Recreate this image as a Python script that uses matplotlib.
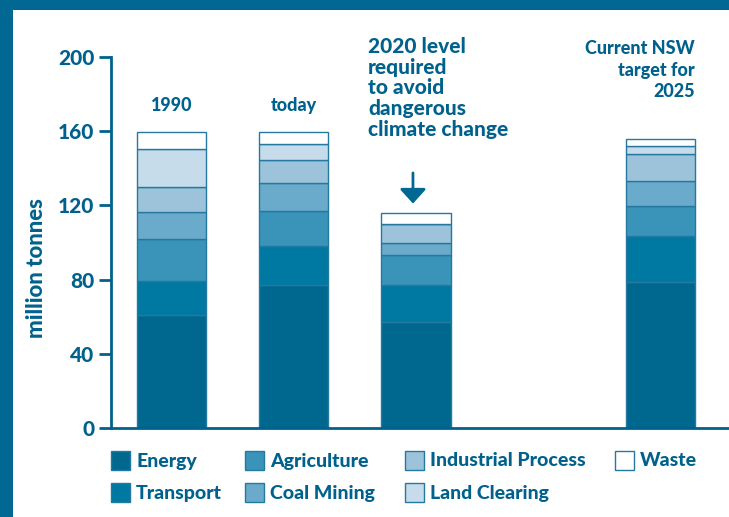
import matplotlib
matplotlib.use("Agg")
import matplotlib.pyplot as plt
from matplotlib.patches import Rectangle
import numpy as np

# ---- data (million tonnes) ----
bar_labels = ["1990", "today", "2020", "2025"]
bar_pos = [0, 1, 2, 4]
sectors = ["Energy", "Transport", "Agriculture", "Coal Mining",
           "Industrial Process", "Land Clearing", "Waste"]
energy = [61.0, 77.0, 57.3, 78.5]
transport = [18.0, 21.0, 19.6, 24.8]
agriculture = [23.0, 19.0, 16.2, 16.2]
coal_mining = [14.5, 15.0, 6.8, 13.5]
industrial = [13.5, 12.5, 10.1, 14.7]
land_clearing = [20.5, 8.5, 0.0, 4.1]
waste = [9.0, 6.5, 5.9, 4.2]

colors = ["#00688f", "#0079a2", "#3a94ba", "#6aaaca", "#9cc3da", "#c6dcea", "#ffffff"]
TXT = "#00628c"
FRAME = "#006892"

plt.rcParams['font.family'] = ['Lato', 'DejaVu Sans']
plt.rcParams['font.weight'] = 'bold'

fig = plt.figure(figsize=(7.29, 5.17), dpi=100)
W, H = 729, 517
ax = fig.add_axes([111 / W, (H - 428) / H, 1 - 111 / W, (428 - 57) / H])

series = [energy, transport, agriculture, coal_mining, industrial, land_clearing, waste]
bottom = np.zeros(len(bar_pos))
for vals, col in zip(series, colors):
    vals = np.array(vals)
    ax.bar(bar_pos, vals, bottom=bottom, width=0.565, color=col,
           edgecolor="#2578a0", linewidth=1.0, zorder=2)
    bottom += vals

ax.set_xlim(-0.495, 4.56)
ax.set_ylim(0, 200)
ax.set_yticks([0, 40, 80, 120, 160, 200])
ax.set_xticks([])
for s in ["top", "right"]:
    ax.spines[s].set_visible(False)
for s in ["left", "bottom"]:
    ax.spines[s].set_color(TXT)
    ax.spines[s].set_linewidth(2)
ax.tick_params(axis="y", colors=TXT, length=9, width=2, labelsize=15, pad=3)
for lab in ax.get_yticklabels():
    lab.set_fontweight("black")
ax.set_ylabel("million tonnes", color=TXT, fontsize=16, fontweight="black")
ax.yaxis.set_label_coords(-0.104, 0.43)

# annotations above bars
ax.text(0, 174, "1990", ha="center", va="center", color=TXT, fontsize=13, fontweight="black")
ax.text(1, 174, "today", ha="center", va="center", color=TXT, fontsize=13, fontweight="black")
ax.text(1.607, 211, "2020 level\nrequired\nto avoid\ndangerous\nclimate change",
        ha="left", va="top", color=TXT, fontsize=15, fontweight="black",
        linespacing=1.12, clip_on=False)
ax.text(4.28, 209, "Current NSW\ntarget for\n2025", ha="right", va="top",
        color=TXT, fontsize=13, fontweight="black", linespacing=1.3,
        multialignment="right", clip_on=False)
ax.annotate("", xy=(1.975, 121), xytext=(1.975, 137.5),
            arrowprops=dict(arrowstyle="-|>,head_width=0.5,head_length=0.55",
                            color=FRAME, lw=2, mutation_scale=16,
                            shrinkA=0, shrinkB=0))

# legend drawn by hand
leg_x = [111, 245, 405, 615]
leg_y = [451, 483]
for i, (name, col) in enumerate(zip(sectors, colors)):
    cx = leg_x[i // 2]
    cy = leg_y[i % 2]
    fig.patches.append(Rectangle((cx / W, (H - cy - 19) / H), 19 / W, 19 / H,
                                 transform=fig.transFigure, facecolor=col,
                                 edgecolor="#2578a0", linewidth=1))
    fig.text((cx + 25) / W, (H - cy - 10) / H, name, ha="left", va="center",
             color=TXT, fontsize=14, fontweight="black")

# frame bars top and left
fig.patches.append(Rectangle((0, (H - 10) / H), 1, 10 / H, transform=fig.transFigure,
                             facecolor=FRAME, edgecolor="none"))
fig.patches.append(Rectangle((0, 0), 13 / W, 1, transform=fig.transFigure,
                             facecolor=FRAME, edgecolor="none"))

fig.savefig("out.png", dpi=100)
